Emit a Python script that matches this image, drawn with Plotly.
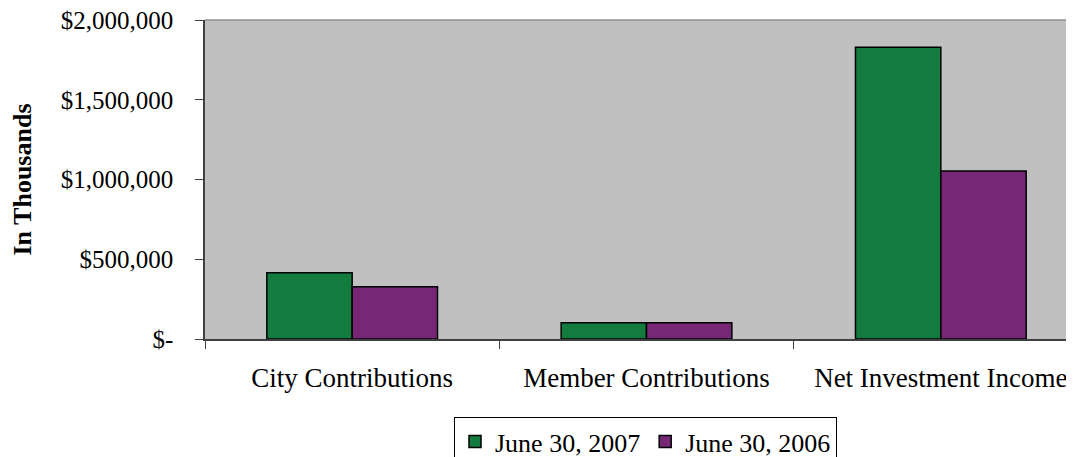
import plotly.graph_objects as go

categories = ["City Contributions", "Member Contributions", "Net Investment Income"]
series_names = ["June 30, 2007", "June 30, 2006"]
values_2007 = [415000, 102000, 1829000]
values_2006 = [328000, 102000, 1053000]
tick_vals = [0, 500000, 1000000, 1500000, 2000000]
tick_text = ["$-", "$500,000", "$1,000,000", "$1,500,000", "$2,000,000"]

colors = ["#137B3E", "#762877"]
font_family = "Liberation Serif, Times New Roman, serif"

fig = go.Figure()
for name, vals, col in zip(series_names, [values_2007, values_2006], colors):
    fig.add_trace(go.Bar(
        x=categories, y=vals, name=name,
        marker=dict(color=col, line=dict(color="black", width=1.5)),
    ))

# page body has an 8px margin; the figure runs past the window edges (cropped like the reference)
fig.update_layout(
    width=1080, height=470,
    margin=dict(l=197, r=0, t=12, b=139),
    paper_bgcolor="white",
    plot_bgcolor="#C0C0C0",
    barmode="group",
    bargap=0.42,
    bargroupgap=0,
    font=dict(family=font_family, size=25, color="black"),
    showlegend=True,
    legend=dict(
        orientation="h",
        x=0.282, xanchor="left",
        y=-0.2445, yanchor="top",
        bordercolor="black", borderwidth=1,
        font=dict(size=26),
        itemwidth=30,
        tracegroupgap=0,
    ),
    xaxis=dict(
        range=[-0.5, 2.5],
        showline=True, linecolor="#404040", linewidth=1.5,
        ticks="outside", tickson="boundaries", ticklen=8, tickcolor="#404040",
        showgrid=False,
        tickfont=dict(size=27),
        ticklabelstandoff=14,
    ),
    yaxis=dict(
        range=[0, 2000000],
        tickvals=tick_vals, ticktext=tick_text,
        showline=True, linecolor="#404040", linewidth=1.5,
        ticks="outside", ticklen=8, tickcolor="#404040",
        showgrid=False, zeroline=False,
        ticklabelstandoff=17,
        ticklabeloverflow="allow",
        tickfont=dict(size=25),
        title=dict(text="<b>In Thousands</b>", font=dict(size=26), standoff=28),
    ),
    shapes=[dict(type="line", xref="paper", yref="paper", x0=0, x1=1, y0=1, y1=1,
                 line=dict(color="#909090", width=1.5))],
)

fig.write_html("out.html")
